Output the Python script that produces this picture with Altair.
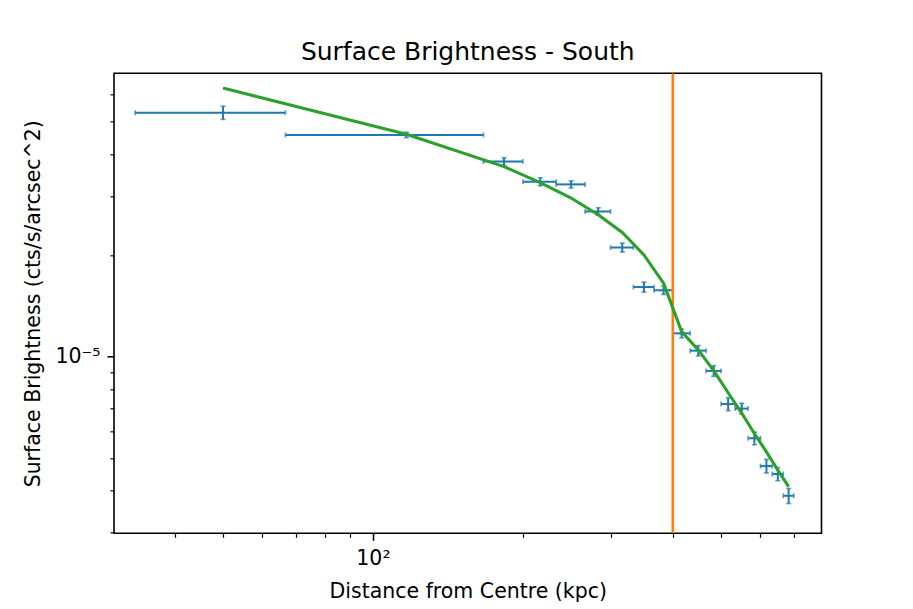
import altair as alt
import pandas as pd

# ---- values ----
x_centre = [50, 116.7, 183.3, 216.7, 250, 283.3, 316.7, 350, 383.3, 416.7,
            450, 483.3, 516.7, 550, 583.3, 616.7, 650, 683.3]
x_halfwidth = [16.7, 50, 16.7, 16.7, 16.7, 16.7, 16.7, 16.7, 16.7, 16.7,
               16.7, 16.7, 16.7, 16.7, 16.7, 16.7, 16.7, 16.7]
sb = [5.31e-5, 4.56e-5, 3.80e-5, 3.31e-5, 3.25e-5, 2.70e-5, 2.11e-5, 1.61e-5,
      1.575e-5, 1.173e-5, 1.042e-5, 9.07e-6, 7.23e-6, 7.01e-6, 5.72e-6,
      4.73e-6, 4.48e-6, 3.86e-6]
sb_err = [2.4e-6, 0.85e-6, 1.0e-6, 0.9e-6, 0.8e-6, 0.7e-6, 0.65e-6, 0.55e-6,
          0.45e-6, 0.36e-6, 0.37e-6, 0.33e-6, 0.32e-6, 0.26e-6, 0.25e-6,
          0.22e-6, 0.2e-6, 0.2e-6]
model_sb = [6.28e-5, 4.58e-5, 3.67e-5, 3.29e-5, 2.96e-5, 2.64e-5, 2.34e-5,
            2.005e-5, 1.653e-5, 1.187e-5, 1.047e-5, 9.09e-6, 7.81e-6, 6.80e-6,
            5.91e-6, 5.21e-6, 4.60e-6, 4.11e-6]
cut_radius = [400]

x_major_ticks = [100]
x_minor_ticks = [30, 40, 50, 60, 70, 80, 90, 200, 300, 400, 500, 600, 700]
y_major_ticks = [1e-5]
y_minor_ticks = [3e-6, 4e-6, 5e-6, 6e-6, 7e-6, 8e-6, 9e-6,
                 2e-5, 3e-5, 4e-5, 5e-5, 6e-5]
x_domain = [30.2, 795.5]
y_domain = [2.986e-6, 6.95e-5]

df = pd.DataFrame({
    "r": x_centre,
    "r_lo": [c - h for c, h in zip(x_centre, x_halfwidth)],
    "r_hi": [c + h for c, h in zip(x_centre, x_halfwidth)],
    "sb": sb,
    "sb_lo": [v - e for v, e in zip(sb, sb_err)],
    "sb_hi": [v + e for v, e in zip(sb, sb_err)],
    "model": model_sb,
})
cut_df = pd.DataFrame({"r": cut_radius})

BLUE = "#1f77b4"
ORANGE = "#ff7f0e"
GREEN = "#2ca02c"
W, H = 707.5, 460

xs = alt.Scale(type="log", domain=x_domain, nice=False)
ys = alt.Scale(type="log", domain=y_domain, nice=False)

x_axis = alt.Axis(
    values=x_major_ticks + x_minor_ticks,
    labelExpr="datum.value == 100 ? '10²' : ''",
    tickSize={"condition": {"test": "datum.value == 100", "value": 7}, "value": 4},
    tickWidth={"condition": {"test": "datum.value == 100", "value": 1.6}, "value": 1.2},
    labelPadding=8, labelOverlap=False, labelFlush=False,
    title="Distance from Centre (kpc)",
    titleX=W / 2, titleY=64, titleBaseline="alphabetic", titleAlign="center",
)
y_axis = alt.Axis(
    values=y_major_ticks + y_minor_ticks,
    labelExpr="(datum.value > 0.99e-5 && datum.value < 1.01e-5) ? '10⁻⁵' : ''",
    tickSize={"condition": {"test": "datum.value > 0.99e-5 && datum.value < 1.01e-5", "value": 7}, "value": 4},
    tickWidth={"condition": {"test": "datum.value > 0.99e-5 && datum.value < 1.01e-5", "value": 1.6}, "value": 1.2},
    labelPadding=7, labelOverlap=False, labelFlush=False,
    title="Surface Brightness (cts/s/arcsec^2)",
    titleX=-74.5, titleY=H / 2, titleAngle=270,
    titleBaseline="alphabetic", titleAlign="center",
)

base = alt.Chart(df)

xerr = base.mark_rule(color=BLUE, strokeWidth=2).encode(
    x=alt.X("r_lo:Q", scale=xs, axis=x_axis), x2="r_hi:Q",
    y=alt.Y("sb:Q", scale=ys, axis=y_axis))
yerr = base.mark_rule(color=BLUE, strokeWidth=2).encode(
    x=alt.X("r:Q", scale=xs, axis=x_axis),
    y=alt.Y("sb_lo:Q", scale=ys, axis=y_axis), y2="sb_hi:Q")
cap_xlo = base.mark_tick(color=BLUE, orient="vertical", size=5, thickness=1.6).encode(
    x=alt.X("r_lo:Q", scale=xs, axis=x_axis), y=alt.Y("sb:Q", scale=ys, axis=y_axis))
cap_xhi = base.mark_tick(color=BLUE, orient="vertical", size=5, thickness=1.6).encode(
    x=alt.X("r_hi:Q", scale=xs, axis=x_axis), y=alt.Y("sb:Q", scale=ys, axis=y_axis))
cap_ylo = base.mark_tick(color=BLUE, orient="horizontal", size=5, thickness=1.6).encode(
    x=alt.X("r:Q", scale=xs, axis=x_axis), y=alt.Y("sb_lo:Q", scale=ys, axis=y_axis))
cap_yhi = base.mark_tick(color=BLUE, orient="horizontal", size=5, thickness=1.6).encode(
    x=alt.X("r:Q", scale=xs, axis=x_axis), y=alt.Y("sb_hi:Q", scale=ys, axis=y_axis))

cut = alt.Chart(cut_df).mark_rule(color=ORANGE, strokeWidth=2.6, clip=True).encode(
    x=alt.X("r:Q", scale=xs, axis=x_axis))

model = base.mark_line(color=GREEN, strokeWidth=3.1).encode(
    x=alt.X("r:Q", scale=xs, axis=x_axis),
    y=alt.Y("model:Q", scale=ys, axis=y_axis))

chart = alt.layer(xerr, yerr, cap_xlo, cap_xhi, cap_ylo, cap_yhi, cut, model).properties(
    width=W, height=H,
    title=alt.TitleParams("Surface Brightness - South", fontSize=25, font="DejaVu Sans",
                          fontWeight="normal", anchor="middle", color="black",
                          baseline="alphabetic", offset=14, dy=26),
    autosize=alt.AutoSizeParams(type="none"),
    padding={"left": 106, "top": 65.3, "right": 60, "bottom": 70},
).configure(font="DejaVu Sans", background="white").configure_view(
    stroke="black", strokeWidth=1.6
).configure_axis(
    domain=False, grid=False, tickColor="black",
    labelFont="DejaVu Sans", labelFontSize=20.5, labelColor="black",
    titleFont="DejaVu Sans", titleFontSize=20.5, titleFontWeight="normal",
    titleColor="black",
)

chart.save("out.html", embed_options={"renderer": "svg", "actions": False})
